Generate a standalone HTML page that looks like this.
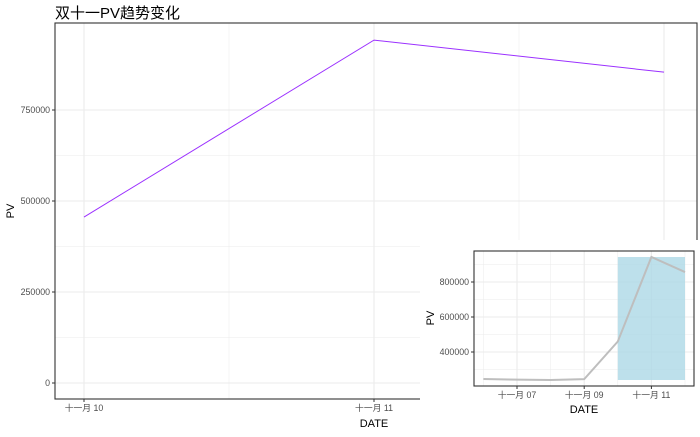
<!DOCTYPE html>
<html><head><meta charset="utf-8"><style>
body{margin:0;background:#fff}
svg text{font-family:"Liberation Sans","Noto Sans CJK SC",sans-serif}
</style></head><body>
<svg id="c" width="700" height="432" xmlns="http://www.w3.org/2000/svg"></svg>
<script>
const mainDays=[10,11,12];
const mainPV=[456000,942000,854000];
const mainYTicks=[0,250000,500000,750000];
const mainXTicks=[10,11];
const insetDays=[6,7,8,9,10,11,12];
const insetPV=[246000,242000,240000,245000,460000,943000,857000];
const insetYTicks=[400000,600000,800000];
const insetXTicks=[7,9,11];
const highlight=[10,12];

const svg=document.getElementById('c');
const NS='http://www.w3.org/2000/svg';
function el(t,a,p){const e=document.createElementNS(NS,t);for(const k in a)e.setAttribute(k,a[k]);(p||svg).appendChild(e);return e;}
function pad(n){return (n<10?'0':'')+n;}

// main
const mx=d=>84+(d-10)*290, my=v=>383-v/250000*91;
const gMain=el('g',{});


el('rect',{x:55,y:23,width:642,height:376,fill:'#fff'},gMain);
for(let i=0;i<mainYTicks.length;i++){const v=mainYTicks[i];
 el('line',{x1:55,x2:697,y1:my(v),y2:my(v),stroke:'#ebebeb','stroke-width':1.1},gMain);
 if(i<mainYTicks.length-1)el('line',{x1:55,x2:697,y1:my(v+125000),y2:my(v+125000),stroke:'#ebebeb','stroke-width':0.5},gMain);}
for(let d=10;d<=12;d+=0.5){el('line',{x1:mx(d),x2:mx(d),y1:23,y2:399,stroke:'#ebebeb','stroke-width':d%1?0.5:1.1},gMain);}
const line=el('polyline',{points:mainDays.map((d,i)=>mx(d)+','+my(mainPV[i])).join(' '),fill:'none',stroke:'#9b30ff','stroke-width':1},gMain);


el('rect',{x:55,y:23,width:642,height:376,fill:'none',stroke:'#333','stroke-width':1.1},gMain);
mainYTicks.forEach(v=>{el('line',{x1:52,x2:55,y1:my(v),y2:my(v),stroke:'#333'},gMain);
 const t=el('text',{x:50,y:my(v)+3,'text-anchor':'end','font-size':8.8,fill:'#4d4d4d'},gMain);t.textContent=v;
 
 });
mainXTicks.forEach(d=>{el('line',{x1:mx(d),x2:mx(d),y1:399,y2:402,stroke:'#333'},gMain);
 const t=el('text',{x:mx(d),y:411,'text-anchor':'middle','font-size':8.8,fill:'#4d4d4d'},gMain);t.textContent='十一月 '+pad(d);
 
 });
</script>
<script>
// inset
const ix=d=>517+(d-7)*33.6, iy=v=>352-(v-400000)/200000*35;
const g=el('g',{});


el('rect',{x:420,y:240,width:280,height:192,fill:'#fff'},g);
el('rect',{x:474,y:251,width:220,height:135,fill:'#fff'},g);
for(let v=300000;v<=900000;v+=100000){if(iy(v)>251&&iy(v)<386)el('line',{x1:474,x2:694,y1:iy(v),y2:iy(v),stroke:'#ebebeb','stroke-width':v%200000?0.5:1.1},g);}
for(let d=6;d<=12;d++){el('line',{x1:ix(d),x2:ix(d),y1:251,y2:386,stroke:'#ebebeb','stroke-width':d%2?1.1:0.5},g);}
const hr=el('rect',{x:ix(highlight[0]),y:257,width:ix(highlight[1])-ix(highlight[0]),height:123,fill:'#add8e6','fill-opacity':0.8},g);


const il=el('polyline',{points:insetDays.map((d,i)=>ix(d)+','+iy(insetPV[i])).join(' '),fill:'none',stroke:'#bebebe','stroke-width':2},g);


el('rect',{x:474,y:251,width:220,height:135,fill:'none',stroke:'#333','stroke-width':1.1},g);
insetYTicks.forEach(v=>{el('line',{x1:471,x2:474,y1:iy(v),y2:iy(v),stroke:'#333'},g);
 const t=el('text',{x:469,y:iy(v)+3,'text-anchor':'end','font-size':8.8,fill:'#4d4d4d'},g);t.textContent=v;
 
 });
insetXTicks.forEach(d=>{el('line',{x1:ix(d),x2:ix(d),y1:386,y2:389,stroke:'#333'},g);
 const t=el('text',{x:ix(d),y:398,'text-anchor':'middle','font-size':8.8,fill:'#4d4d4d'},g);t.textContent='十一月 '+pad(d);
 
 });
</script>
<script>
(function(){
const s=document.getElementById('c');
s.insertAdjacentHTML('beforeend',
'<text x="55" y="18" font-size="15" fill="#000">双十一PV趋势变化</text>'+
'<text x="374" y="427" font-size="11" text-anchor="middle" fill="#000">DATE</text>'+
'<text x="14" y="211" font-size="11" text-anchor="middle" fill="#000" transform="rotate(-90 14 211)">PV</text>'+
'<text x="584" y="413" font-size="11" text-anchor="middle" fill="#000">DATE</text>'+
'<text x="434" y="318" font-size="11" text-anchor="middle" fill="#000" transform="rotate(-90 434 318)">PV</text>');
})();
</script>
</body></html>
